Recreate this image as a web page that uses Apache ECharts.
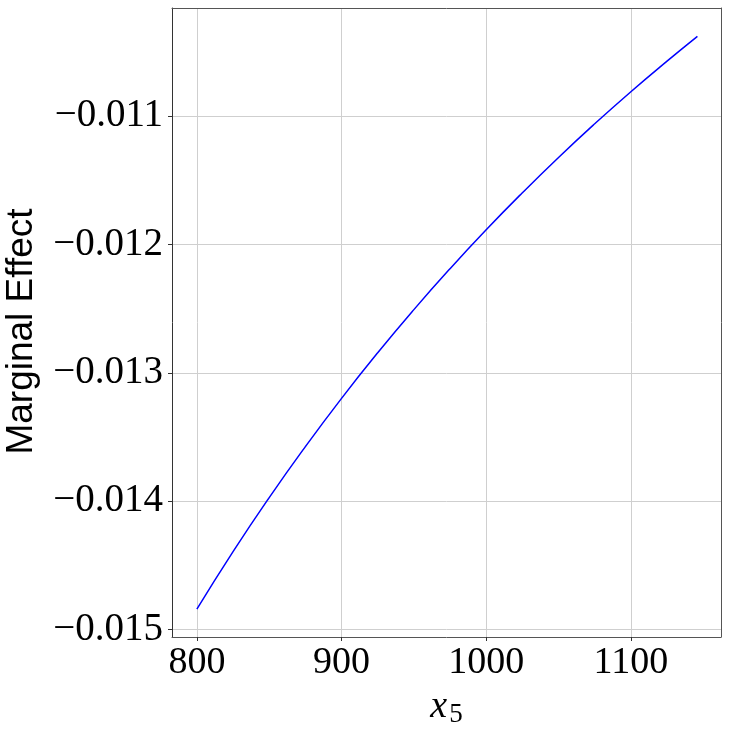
<!DOCTYPE html>
<html>
<head>
<meta charset="utf-8">
<script src="https://cdn.jsdelivr.net/npm/echarts@6/dist/echarts.min.js"></script>
<style>
  html, body { margin: 0; padding: 0; background: #fff; }
  #chart { width: 730px; height: 730px; }
</style>
</head>
<body>
<div id="chart"></div>
<script>
// x5 values and marginal effect
var xValues = [800, 825, 850, 875, 900, 925, 950, 975, 1000, 1025, 1050, 1075, 1100, 1125, 1146];
var effectValues = [-0.014841, -0.014393, -0.013972, -0.013575, -0.013199, -0.012844, -0.012508,
  -0.012189, -0.011886, -0.011598, -0.011323, -0.011061, -0.010811, -0.010573, -0.010380];
var xTicks = [800, 900, 1000, 1100];
var yTicks = [-0.015, -0.014, -0.013, -0.012, -0.011];

var points = xValues.map(function (x, i) { return [x, effectValues[i]]; });

var chart = echarts.init(document.getElementById('chart'));

var serifFont = '"Liberation Serif", "DejaVu Serif", serif';
var xMin = 782.8, xMax = 1162.3;
var yMin = -0.0150577, yMax = -0.010159;

// plain axis used only to close the frame (top / right)
function frameAxis(pos, min, max) {
  return {
    type: 'value', position: pos, min: min, max: max,
    axisLine: { show: true, onZero: false, lineStyle: { color: '#555', width: 1 } },
    axisTick: { show: false }, axisLabel: { show: false }, splitLine: { show: false }
  };
}

chart.setOption({
  animation: false,
  grid: { left: 172, right: 9, top: 8, bottom: 93, containLabel: false, outerBoundsMode: 'none' },
  xAxis: [{
    type: 'value',
    position: 'bottom',
    min: xMin,
    max: xMax,
    name: '{i|x}{s|5}',
    nameLocation: 'middle',
    nameGap: 50,
    nameTextStyle: {
      rich: {
        i: { fontFamily: serifFont, fontStyle: 'italic', fontSize: 38, color: '#000' },
        s: { fontFamily: serifFont, fontSize: 27, color: '#000', padding: [14, 0, 0, 2] }
      }
    },
    axisLine: { show: true, onZero: false, lineStyle: { color: '#555', width: 1 } },
    axisTick: { show: true, length: 4, inside: false, customValues: xTicks, lineStyle: { color: '#333' } },
    axisLabel: {
      customValues: xTicks,
      margin: 7,
      fontFamily: serifFont,
      fontSize: 38,
      color: '#000',
      formatter: function (v) { return String(Math.round(v)); }
    },
    splitLine: { show: true, lineStyle: { color: '#cfcfcf', width: 1 } }
  }, frameAxis('top', xMin, xMax)],
  yAxis: [{
    type: 'value',
    position: 'left',
    min: yMin,
    max: yMax,
    name: 'Marginal Effect',
    nameLocation: 'middle',
    nameRotate: 90,
    nameGap: 132,
    nameTextStyle: {
      fontFamily: '"Liberation Sans", "DejaVu Sans", sans-serif',
      fontSize: 37,
      color: '#000',
      padding: [0, 18, 0, 0]
    },
    axisLine: { show: true, onZero: false, lineStyle: { color: '#333', width: 1 } },
    axisTick: { show: true, length: 4, inside: false, customValues: yTicks, lineStyle: { color: '#333' } },
    axisLabel: {
      customValues: yTicks,
      margin: 9,
      fontFamily: serifFont,
      fontSize: 39,
      color: '#000',
      formatter: function (v) { return '\u2212' + Math.abs(v).toFixed(3); }
    },
    splitLine: { show: true, lineStyle: { color: '#cfcfcf', width: 1 } }
  }, frameAxis('right', yMin, yMax)],
  series: [
    {
      type: 'line',
      xAxisIndex: 0,
      yAxisIndex: 0,
      data: points,
      smooth: true,
      showSymbol: false,
      lineStyle: { color: '#0000ff', width: 1.5 },
      z: 5
    }
  ]
});
</script>
</body>
</html>
